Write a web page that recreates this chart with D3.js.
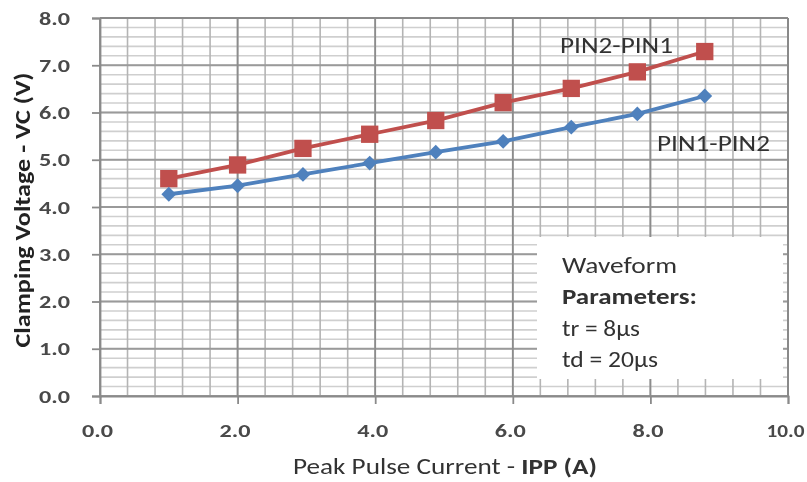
<!DOCTYPE html>
<html>
<head>
<meta charset="utf-8">
<script src="https://cdn.jsdelivr.net/npm/d3@7"></script>
<style>
  html, body { margin: 0; padding: 0; background: #fff; }
  svg { display: block; }
  text { font-family: Carlito, Calibri, Lato, "Open Sans", sans-serif; }
</style>
</head>
<body>
<svg id="chart" width="807" height="482"></svg>
<script>
// ---- data ----
const currents = [1.0, 2.0, 2.95, 3.92, 4.88, 5.86, 6.85, 7.81, 8.79];
const pin2pin1 = [4.60, 4.89, 5.24, 5.54, 5.83, 6.21, 6.51, 6.86, 7.29];
const pin1pin2 = [4.27, 4.45, 4.69, 4.93, 5.16, 5.39, 5.69, 5.97, 6.35];
const xTicks = [0, 2, 4, 6, 8, 10];
const yTicks = [0, 1, 2, 3, 4, 5, 6, 7, 8];
const seriesNames = ["PIN2-PIN1", "PIN1-PIN2"];
const xTitleParts = ["Peak Pulse Current - ", "IPP (A)"];
const yTitle = "Clamping Voltage - VC (V)";
const noteLines = ["Waveform", "Parameters:", "tr = 8\u00b5s", "td = 20\u00b5s"];

// ---- layout ----
const svg = d3.select("#chart");
const x = d3.scaleLinear().domain([0, 10]).range([100, 788]);
const y = d3.scaleLinear().domain([0, 8]).range([396, 18]);

const blur = svg.append("defs").append("filter").attr("id", "soft")
  .attr("x", "-5%").attr("y", "-5%").attr("width", "110%").attr("height", "110%");
blur.append("feGaussianBlur").attr("stdDeviation", 0.6);

const root = svg.append("g").attr("filter", "url(#soft)");

// minor grid
const g = root.append("g");
g.selectAll("line.hmin").data(d3.range(0, 8.0001, 0.2)).enter().append("line")
  .attr("x1", x(0)).attr("x2", x(10))
  .attr("y1", d => y(d)).attr("y2", d => y(d))
  .attr("stroke", "#cfcfcf").attr("stroke-width", 1.6);
g.selectAll("line.vmin").data(d3.range(0, 10.0001, 0.4)).enter().append("line")
  .attr("y1", y(0)).attr("y2", y(8))
  .attr("x1", d => x(d)).attr("x2", d => x(d))
  .attr("stroke", "#b4b4b4").attr("stroke-width", 1.6);
// major grid
g.selectAll("line.hmaj").data(yTicks).enter().append("line")
  .attr("x1", x(0)).attr("x2", x(10))
  .attr("y1", d => y(d)).attr("y2", d => y(d))
  .attr("stroke", "#9a9a9a").attr("stroke-width", 1.8);
g.selectAll("line.vmaj").data(xTicks).enter().append("line")
  .attr("y1", y(0)).attr("y2", y(8))
  .attr("x1", d => x(d)).attr("x2", d => x(d))
  .attr("stroke", "#8c8c8c").attr("stroke-width", 1.8);

// axes
const fmt = d3.format(".1f");
const yAxis = d3.axisLeft(y).tickValues(yTicks).tickFormat(fmt).tickSize(8).tickPadding(22);
const xAxis = d3.axisBottom(x).tickValues(xTicks).tickFormat(fmt).tickSize(8).tickPadding(20);
const ya = root.append("g").attr("transform", `translate(${x(0)},0)`).call(yAxis);
const xa = root.append("g").attr("transform", `translate(0,${y(0)})`).call(xAxis);
[ya, xa].forEach(a => {
  a.select(".domain").attr("stroke", "#8a8a8a").attr("stroke-width", 1.8);
  a.selectAll(".tick line").attr("stroke", "#8a8a8a").attr("stroke-width", 1.8);
  a.selectAll(".tick text").attr("fill", "#4a4a4a").attr("font-size", 19).attr("font-weight", 600)
    .attr("textLength", d => fmt(d).length > 3 ? 38 : 31).attr("lengthAdjust", "spacingAndGlyphs");
});
xa.selectAll(".tick text").attr("dy", "0.71em").attr("x", -3);
// frame top/right
root.append("line").attr("x1", x(0)).attr("x2", x(10)).attr("y1", y(8)).attr("y2", y(8))
  .attr("stroke", "#8a8a8a").attr("stroke-width", 1.8);
root.append("line").attr("x1", x(10)).attr("x2", x(10)).attr("y1", y(8)).attr("y2", y(0))
  .attr("stroke", "#8a8a8a").attr("stroke-width", 1.8);

// note box
const noteWidths = [115, 135, 78, 96];
const box = root.append("g");
box.append("rect").attr("x", 537).attr("y", 237).attr("width", 246).attr("height", 142)
  .attr("fill", "#fff");
box.selectAll("text").data(noteLines).enter().append("text")
  .attr("x", 562).attr("y", (d, i) => 273 + i * 31.3)
  .attr("font-size", 23).attr("fill", "#333")
  .attr("font-weight", (d, i) => i === 1 ? 600 : 400)
  .attr("textLength", (d, i) => noteWidths[i]).attr("lengthAdjust", "spacingAndGlyphs")
  .text(d => d);

// series
const diamond = {
  draw(ctx, size) {
    const r = Math.sqrt(size / 2);
    ctx.moveTo(0, -r); ctx.lineTo(r, 0); ctx.lineTo(0, r); ctx.lineTo(-r, 0); ctx.closePath();
  }
};
const series = [
  { name: seriesNames[0], values: pin2pin1, color: "#C0504D", shape: d3.symbolSquare, size: 300 },
  { name: seriesNames[1], values: pin1pin2, color: "#4F81BD", shape: diamond, size: 110 }
];
const line = d3.line().x(d => x(d[0])).y(d => y(d[1]));
series.forEach(s => {
  const pts = currents.map((c, i) => [c, s.values[i]]);
  root.append("path").datum(pts).attr("d", line)
    .attr("fill", "none").attr("stroke", s.color).attr("stroke-width", 3.8);
  root.selectAll(null).data(pts).enter().append("path")
    .attr("d", d3.symbol().type(s.shape).size(s.size))
    .attr("transform", d => `translate(${x(d[0])},${y(d[1])})`)
    .attr("fill", s.color);
});

// series labels
root.append("text").attr("x", 560).attr("y", 53).attr("font-size", 22).attr("fill", "#333")
  .attr("textLength", 113).attr("lengthAdjust", "spacingAndGlyphs")
  .text(seriesNames[0]);
root.append("text").attr("x", 657).attr("y", 151).attr("font-size", 22).attr("fill", "#333")
  .attr("textLength", 113).attr("lengthAdjust", "spacingAndGlyphs")
  .text(seriesNames[1]);

// axis titles
const xt = root.append("text").attr("x", 445).attr("y", 474).attr("text-anchor", "middle")
  .attr("font-size", 22).attr("fill", "#333")
  .attr("textLength", 304).attr("lengthAdjust", "spacingAndGlyphs");
xt.append("tspan").text(xTitleParts[0]);
xt.append("tspan").attr("font-weight", 700).text(xTitleParts[1]);
root.append("text").attr("transform", "translate(30,210) rotate(-90)")
  .attr("text-anchor", "middle").attr("font-size", 22).attr("font-weight", 700).attr("fill", "#222")
  .attr("textLength", 275).attr("lengthAdjust", "spacingAndGlyphs")
  .text(yTitle);
</script>
</body>
</html>
